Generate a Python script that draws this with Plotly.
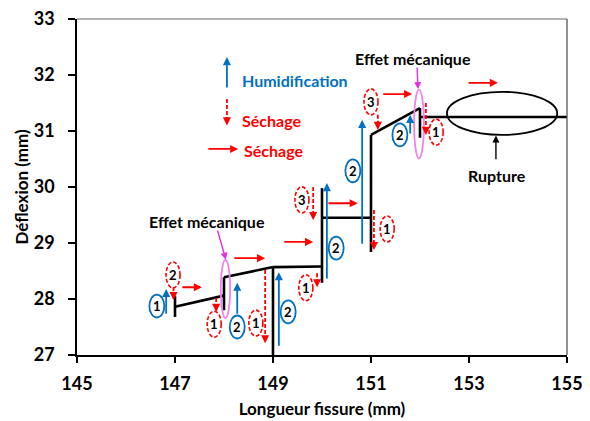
import plotly.graph_objects as go

# ---------------- data ----------------
# main deflection curve (segments separated by None)
curve_x = [147, 147, None, 147, 148, None, 148, 148, None, 148, 149, None,
           149, 149, None, 149, 150, None, 150, 150, None, 150, 151, None,
           151, 151, None, 151, 152, None, 152, 152, None, 152, 155]
curve_y = [28.05, 27.68, None, 27.86, 28.06, None, 28.39, 27.80, None, 28.39, 28.57, None,
           28.57, 27.0, None, 28.57, 28.58, None, 29.98, 28.29, None, 29.45, 29.45, None,
           30.93, 28.84, None, 30.93, 31.41, None, 31.41, 30.88, None, 31.25, 31.25]

x_ticks = [145, 147, 149, 151, 153, 155]
y_ticks = [27, 28, 29, 30, 31, 32, 33]

# humidification arrows (blue, upward): x, y_start, y_end
hum_x = [146.82, 148.27, 149.12, 150.10, 150.82, 151.80]
hum_y0 = [27.71, 27.71, 27.14, 28.34, 28.96, 30.93]
hum_y1 = [28.18, 28.29, 28.48, 30.07, 31.20, 31.29]

# drying arrows (red dashed, downward): x, y_start, y_end
dry_x = [146.97, 147.84, 148.84, 149.82, 149.90, 151.06, 151.14, 152.12]
dry_y0 = [28.21, 28.02, 28.52, 30.00, 28.46, 29.59, 31.29, 31.50]
dry_y1 = [27.98, 27.77, 27.21, 29.41, 28.21, 28.875, 31.02, 30.93]

# drying arrows (red, horizontal): x_start, x_end, y
hdry_x0 = [147.12, 148.18, 149.20, 150.10, 151.22, 152.96]
hdry_x1 = [147.55, 148.84, 149.82, 150.73, 151.84, 153.59]
hdry_y = [28.21, 28.73, 29.02, 29.71, 31.66, 31.86]

# blue step numbers
blue_num_x = [146.63, 148.27, 149.31, 150.29, 150.63, 151.59]
blue_num_y = [27.875, 27.50, 27.77, 28.91, 30.29, 30.93]
blue_num_t = ["1", "2", "2", "2", "2", "2"]

# red step numbers
red_num_x = [146.96, 147.80, 148.65, 149.59, 149.67, 151.33, 151.00, 152.33]
red_num_y = [28.43, 27.55, 27.57, 29.77, 28.20, 29.25, 31.52, 30.98]
red_num_t = ["2", "1", "1", "3", "1", "1", "3", "1"]

# "effet mécanique" ellipses (centre x, centre y, half width, half height)
meca_cx = [148.03, 151.98]
meca_cy = [28.18, 31.125]
meca_hw = [0.095, 0.10]
meca_hh = [0.52, 0.615]
meca_text_x = [147.65, 151.86]
meca_text_y = [29.38, 32.30]
meca_arrow_x0 = [147.86, 151.94]
meca_arrow_y0 = [29.25, 32.16]
meca_arrow_x1 = [148.04, 151.96]
meca_arrow_y1 = [28.70, 31.75]

# rupture ellipse and label
rup_x = [152.55, 154.80]
rup_y = [30.93, 31.70]
rup_text = (153.57, 30.21)
rup_arrow = (153.55, 30.47, 30.92)

# legend items
leg_hum = (148.06, 31.75, 32.32)
leg_dry = (148.06, 31.57, 31.10)
leg_hdry = (147.65, 148.29, 30.68)
leg_text_x = [148.33, 148.33, 148.37]
leg_text_y = [31.91, 31.18, 30.66]
leg_text = ["Humidification", "Séchage", "Séchage"]
leg_color = ["#0070C0", "#FF0000", "#FF0000"]

# ---------------- styling ----------------
BLUE = "#0070C0"
RED = "#FF0000"
FONT = "Lato"

fig = go.Figure()
fig.add_trace(go.Scatter(x=curve_x, y=curve_y, mode="lines",
                         line=dict(color="black", width=2.6),
                         hoverinfo="skip", showlegend=False))

shapes = []
ann = []


def arrow(x0, y0, x1, y1, color, width=1.8, size=0.9):
    ann.append(dict(x=x1, y=y1, ax=x0, ay=y0, xref="x", yref="y",
                    axref="x", ayref="y", text="", showarrow=True,
                    arrowhead=2, arrowsize=size, arrowwidth=width,
                    arrowcolor=color, standoff=0, startstandoff=0))


def dashed_arrow(x, y0, y1, color, width=1.8):
    head = 0.10
    shapes.append(dict(type="line", xref="x", yref="y", x0=x, x1=x,
                       y0=y0, y1=y1 + head * 0.6,
                       line=dict(color=color, width=width, dash="4px,2px")))
    arrow(x, y1 + head, x, y1, color, width=width, size=0.9)


for x, a, b in zip(hum_x, hum_y0, hum_y1):
    arrow(x, a, x, b, BLUE)
for x, a, b in zip(dry_x, dry_y0, dry_y1):
    dashed_arrow(x, a, b, RED)
for a, b, y in zip(hdry_x0, hdry_x1, hdry_y):
    arrow(a, y, b, y, RED)

BHW, BHH = 0.153, 0.205
RHW, RHH = 0.143, 0.232
for x, y, t in zip(blue_num_x, blue_num_y, blue_num_t):
    shapes.append(dict(type="circle", xref="x", yref="y",
                       x0=x - BHW, x1=x + BHW, y0=y - BHH, y1=y + BHH,
                       line=dict(color=BLUE, width=1.8)))
    ann.append(dict(x=x, y=y, xref="x", yref="y", text="<b>%s</b>" % t,
                    showarrow=False, font=dict(family=FONT, size=13, color="black")))
for x, y, t in zip(red_num_x, red_num_y, red_num_t):
    shapes.append(dict(type="circle", xref="x", yref="y",
                       x0=x - RHW, x1=x + RHW, y0=y - RHH, y1=y + RHH,
                       line=dict(color=RED, width=1.6, dash="4px,2px")))
    ann.append(dict(x=x, y=y, xref="x", yref="y", text="<b>%s</b>" % t,
                    showarrow=False, font=dict(family=FONT, size=13, color="black")))

for cx, cy, hw, hh in zip(meca_cx, meca_cy, meca_hw, meca_hh):
    shapes.append(dict(type="circle", xref="x", yref="y",
                       x0=cx - hw, x1=cx + hw, y0=cy - hh, y1=cy + hh,
                       line=dict(color="#EE82EE", width=1.8)))
for tx, ty in zip(meca_text_x, meca_text_y):
    ann.append(dict(x=tx, y=ty, xref="x", yref="y", text="<b>Effet mécanique</b>",
                    showarrow=False, font=dict(family=FONT, size=16, color="black")))
for a, b, c, d in zip(meca_arrow_x0, meca_arrow_y0, meca_arrow_x1, meca_arrow_y1):
    arrow(a, b, c, d, "#E030E0", width=1.4, size=1.0)

shapes.append(dict(type="circle", xref="x", yref="y",
                   x0=rup_x[0], x1=rup_x[1], y0=rup_y[0], y1=rup_y[1],
                   line=dict(color="black", width=1.8)))
ann.append(dict(x=rup_text[0], y=rup_text[1], xref="x", yref="y",
                text="<b>Rupture</b>", showarrow=False,
                font=dict(family=FONT, size=16, color="black")))
arrow(rup_arrow[0], rup_arrow[1], rup_arrow[0], rup_arrow[2], "black", width=1.4, size=1.0)

# legend-like annotations
arrow(leg_hum[0], leg_hum[1], leg_hum[0], leg_hum[2], BLUE)
dashed_arrow(leg_dry[0], leg_dry[1], leg_dry[2], RED)
arrow(leg_hdry[0], leg_hdry[2], leg_hdry[1], leg_hdry[2], RED)
for tx, ty, t, c in zip(leg_text_x, leg_text_y, leg_text, leg_color):
    ann.append(dict(x=tx, y=ty, xref="x", yref="y", text="<b>%s</b>" % t,
                    showarrow=False, xanchor="left",
                    font=dict(family=FONT, size=16, color=c)))

# top / right frame
shapes.append(dict(type="line", xref="paper", yref="paper", x0=0, x1=1, y0=1, y1=1,
                   line=dict(color="#999999", width=1.3)))
shapes.append(dict(type="line", xref="paper", yref="paper", x0=1, x1=1, y0=0, y1=1,
                   line=dict(color="#555555", width=1.3)))

fig.update_layout(
    width=582, height=413,
    margin=dict(l=69, r=23, t=11, b=66, autoexpand=False),
    plot_bgcolor="white", paper_bgcolor="white",
    shapes=shapes, annotations=ann,
    font=dict(family=FONT, color="black"),
    xaxis=dict(range=[145, 155.0005], tickvals=x_ticks, ticktext=[str(v) for v in x_ticks],
               automargin=False, ticklabeloverflow="allow",
               showgrid=False, zeroline=False, showline=True, linecolor="black",
               linewidth=1.5, ticks="outside", ticklen=6, tickwidth=1.5,
               tickcolor="black", ticklabelstandoff=6,
               tickfont=dict(family=FONT, size=18, color="black", weight="bold"),
               title=dict(text="<b>Longueur fissure (mm)</b>", standoff=10,
                          font=dict(family=FONT, size=17, color="black"))),
    yaxis=dict(range=[27, 33.0005], tickvals=y_ticks, ticktext=[str(v) for v in y_ticks],
               automargin=False, ticklabeloverflow="allow",
               showgrid=False, zeroline=False, showline=True, linecolor="black",
               linewidth=1.5, ticks="outside", ticklen=7, tickwidth=1.5,
               tickcolor="black", ticklabelstandoff=10,
               tickfont=dict(family=FONT, size=18, color="black", weight="bold"),
               title=dict(text="<b>Déflexion (mm)</b>", standoff=1,
                          font=dict(family=FONT, size=17, color="black"))),
)

fig.write_html("out.html")
